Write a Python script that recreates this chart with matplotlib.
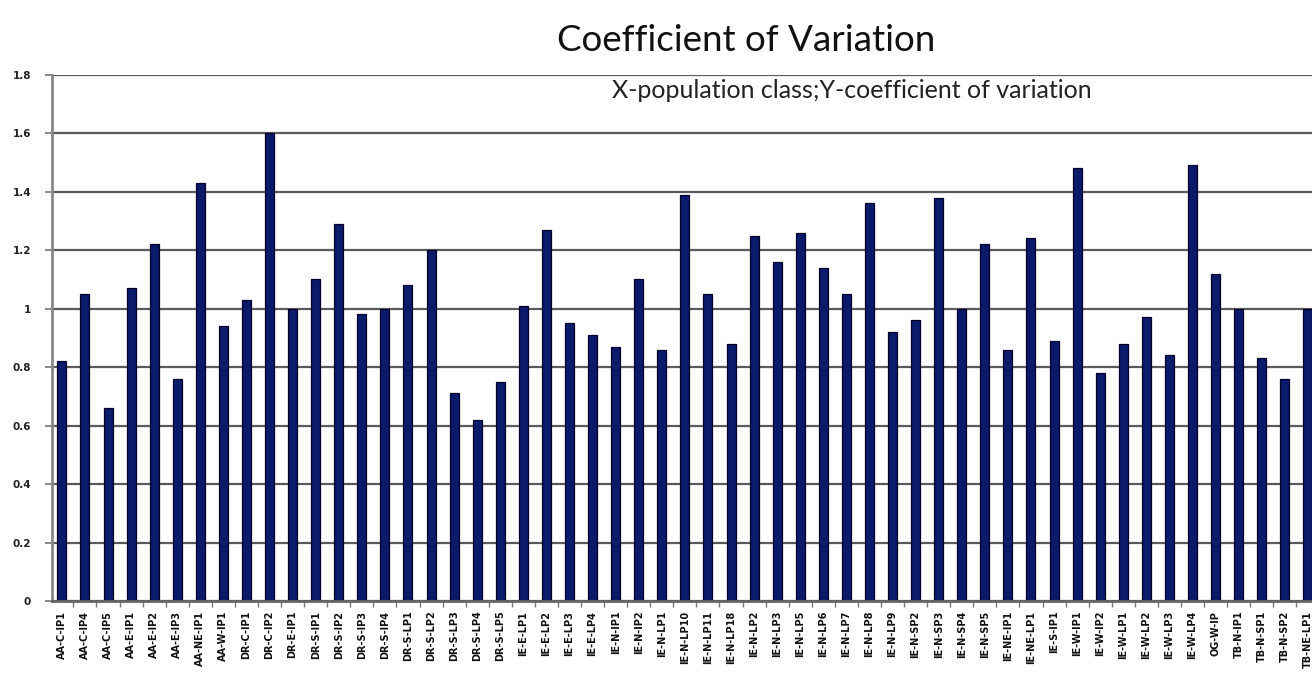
import matplotlib
matplotlib.use("Agg")
import matplotlib.pyplot as plt
import numpy as np

# population classes and their coefficient of variation
classes = [
    "AA-C-IP1", "AA-C-IP4", "AA-C-IP5", "AA-E-IP1", "AA-E-IP2", "AA-E-IP3",
    "AA-NE-IP1", "AA-W-IP1", "DR-C-IP1", "DR-C-IP2", "DR-E-IP1", "DR-S-IP1",
    "DR-S-IP2", "DR-S-IP3", "DR-S-IP4", "DR-S-LP1", "DR-S-LP2", "DR-S-LP3",
    "DR-S-LP4", "DR-S-LP5", "IE-E-LP1", "IE-E-LP2", "IE-E-LP3", "IE-E-LP4",
    "IE-N-IP1", "IE-N-IP2", "IE-N-LP1", "IE-N-LP10", "IE-N-LP11", "IE-N-LP18",
    "IE-N-LP2", "IE-N-LP3", "IE-N-LP5", "IE-N-LP6", "IE-N-LP7", "IE-N-LP8",
    "IE-N-LP9", "IE-N-SP2", "IE-N-SP3", "IE-N-SP4", "IE-N-SP5", "IE-NE-IP1",
    "IE-NE-LP1", "IE-S-IP1", "IE-W-IP1", "IE-W-IP2", "IE-W-LP1", "IE-W-LP2",
    "IE-W-LP3", "IE-W-LP4", "OG-W-IP", "TB-N-IP1", "TB-N-SP1", "TB-N-SP2",
    "TB-NE-LP1",
]
cv_values = [
    0.82, 1.05, 0.66, 1.07, 1.22, 0.76,
    1.43, 0.94, 1.03, 1.60, 1.00, 1.10,
    1.29, 0.98, 1.00, 1.08, 1.20, 0.71,
    0.62, 0.75, 1.01, 1.27, 0.95, 0.91,
    0.87, 1.10, 0.86, 1.39, 1.05, 0.88,
    1.25, 1.16, 1.26, 1.14, 1.05, 1.36,
    0.92, 0.96, 1.38, 1.00, 1.22, 0.86,
    1.24, 0.89, 1.48, 0.78, 0.88, 0.97,
    0.84, 1.49, 1.12, 1.00, 0.83, 0.76,
    1.00,
]
y_ticks = [0, 0.2, 0.4, 0.6, 0.8, 1, 1.2, 1.4, 1.6, 1.8]
y_tick_labels = ["0", "0.2", "0.4", "0.6", "0.8", "1", "1.2", "1.4", "1.6", "1.8"]

fig = plt.figure(figsize=(13.12, 6.78), dpi=100)
fig.patch.set_facecolor("white")

ax = fig.add_axes([0.0396, 0.1136, 0.9604, 0.7762])
x = np.arange(len(classes))

# gridlines behind the bars
ax.set_axisbelow(True)
ax.yaxis.grid(True, color="#5a5a5a", linewidth=1.6)

ax.bar(x, cv_values, width=0.39, color="#0b1a6a", edgecolor="#000028", linewidth=0.9)

ax.set_ylim(0, 1.8)
ax.set_xlim(-0.43, 54.18)
ax.set_yticks(y_ticks)
ax.set_yticklabels(y_tick_labels, fontsize=7.5, fontweight="bold", color="#222222")

ax.set_xticks(x)
ax.set_xticklabels(classes, rotation=90, fontsize=7, fontweight="bold", color="#111111")
ax.tick_params(axis="x", which="major", length=0, pad=7)
ax.set_xticks(x[:-1] + 0.5, minor=True)
ax.tick_params(axis="x", which="minor", length=4, width=1, color="#777777", direction="out")
ax.tick_params(axis="y", length=5, width=1.2, color="#777777", direction="out", pad=10)

# spines: gray left and bottom, nothing else
ax.spines["top"].set_visible(False)
ax.spines["right"].set_visible(False)
ax.spines["left"].set_color("#888888")
ax.spines["left"].set_linewidth(2)
ax.spines["bottom"].set_color("#666666")
ax.spines["bottom"].set_linewidth(2)

# title and subtitle
fig.text(0.569, 0.94, "Coefficient of Variation", fontsize=26.5, family="Lato",
         ha="center", va="center", color="#111111")
fig.text(0.649, 0.866, "X-population class;Y-coefficient of variation", fontsize=18,
         family="Lato", ha="center", va="center", color="#222222")

fig.savefig("out.png", dpi=100)
